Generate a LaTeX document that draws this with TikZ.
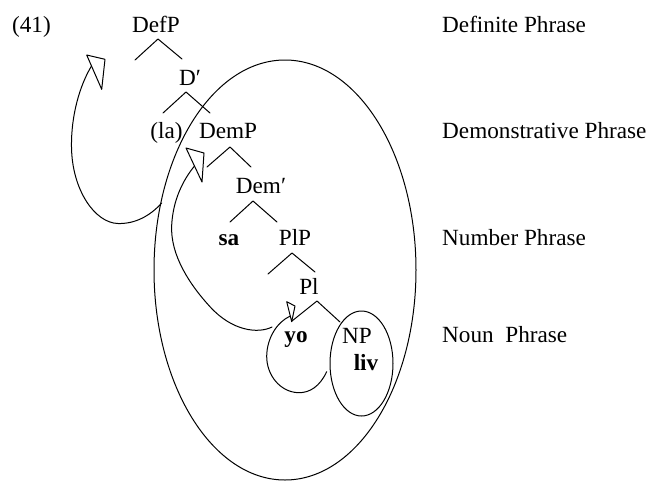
\documentclass[tikz,border=0pt]{standalone}
\usepackage{fontspec}
\setmainfont{Liberation Serif}
\usetikzlibrary{shapes.geometric}
\begin{document}
\begin{tikzpicture}[x=1pt,y=-1pt,
  lbl/.style={inner sep=0pt, anchor=base, font=\fontsize{23.2}{28}\selectfont},
  wd/.style={lbl, font=\fontsize{23.2}{28}\selectfont\bfseries},
  side/.style={lbl, anchor=base west},
  ln/.style={line width=1pt, line join=round, line cap=round},
  ring/.style={draw, ellipse, line width=1pt, inner sep=0pt},
]
\useasboundingbox (0,0) rectangle (651,483);

% tree labels
\node[lbl] (ex)     at (31.5,32)  {(41)};
\node[lbl] (defp)   at (156,32)   {DefP};
\node[lbl] (dbar)   at (190,85)   {D′};
\node[lbl] (la)     at (166.5,138){(la)};
\node[lbl] (demp)   at (228,138)  {DemP};
\node[lbl] (dembar) at (261,193)  {Dem′};
\node[wd]  (sa)     at (229,245)  {sa};
\node[lbl] (plp)    at (295,245)  {PlP};
\node[lbl] (pl)     at (309,294)  {Pl};
\node[wd]  (yo)     at (296,342)  {yo};
\node[lbl] (np)     at (357,343)  {NP};
\node[wd]  (liv)    at (366,370)  {liv};

% phrase names on the right
\node[side] (defname) at (442,32)  {Definite Phrase};
\node[side] (demname) at (442,138) {Demonstrative Phrase};
\node[side] (numname) at (442,245) {Number Phrase};
\node[side] (nname)   at (442,342) {Noun\ \ Phrase};

% branch points
\coordinate (b1) at (158,39);  \coordinate (b1l) at (135,60);  \coordinate (b1r) at (182,59);
\coordinate (b2) at (186,92);  \coordinate (b2l) at (163,113); \coordinate (b2r) at (210,113);
\coordinate (b3) at (230,147); \coordinate (b3l) at (207,167); \coordinate (b3r) at (251,167);
\coordinate (b4) at (253,201); \coordinate (b4l) at (230,222); \coordinate (b4r) at (277,222);
\coordinate (b5) at (292,253); \coordinate (b5l) at (268,274); \coordinate (b5r) at (315,272);
\coordinate (b6) at (317,301); \coordinate (b6l) at (292,321); \coordinate (b6r) at (340,322);
\foreach \b in {b1,b2,b3,b4,b5,b6}
  \draw[ln] (\b l) -- (\b) -- (\b r);

% domains
\node[ring, minimum width=262pt, minimum height=420pt] (outer) at (285,270) {};
\node[ring, minimum width=63pt, minimum height=105pt] (npring) at (361.5,363.5) {};

% movement arrows: open heads
\coordinate (h1a) at (86.7,55);  \coordinate (h1b) at (105,59.3);  \coordinate (h1c) at (101.7,89.3);
\coordinate (h2a) at (186,148);  \coordinate (h2b) at (204,153);   \coordinate (h2c) at (202,182);
\coordinate (h3a) at (286.7,301.7); \coordinate (h3b) at (295,306); \coordinate (h3c) at (291.7,321.7);
\draw[ln] (h1a) -- (h1b) -- (h1c) -- cycle;
\draw[ln] (h2a) -- (h2b) -- (h2c) -- cycle;
\draw[ln] (h3a) -- (h3b) -- (h3c) -- cycle;

% shafts
\coordinate (s1) at (161.7,203);
\coordinate (e1) at (91.5,66);
\draw[ln] (s1) .. controls (150,216) and (135,224) .. (118,223.5)
               .. controls (95,223) and (72,190) .. (71.5,147)
               .. controls (71,115) and (80,85) .. (e1);

\coordinate (s3) at (326.7,371.7);
\coordinate (e3) at (290.3,316);
\draw[ln] (s3) .. controls (320,386) and (310,393) .. (298.3,392.7)
               .. controls (280,392) and (266.5,375) .. (266.7,356)
               .. controls (267,338) and (277,322) .. (e3);

\coordinate (s2) at (272,327);
\coordinate (e2) at (194.5,166);
\draw[ln] (s2) .. controls (258,334) and (232,331) .. (210,306.7)
               .. controls (190,285) and (170,255) .. (171.7,225)
               .. controls (173,200) and (183,180) .. (e2);
\end{tikzpicture}
\end{document}
